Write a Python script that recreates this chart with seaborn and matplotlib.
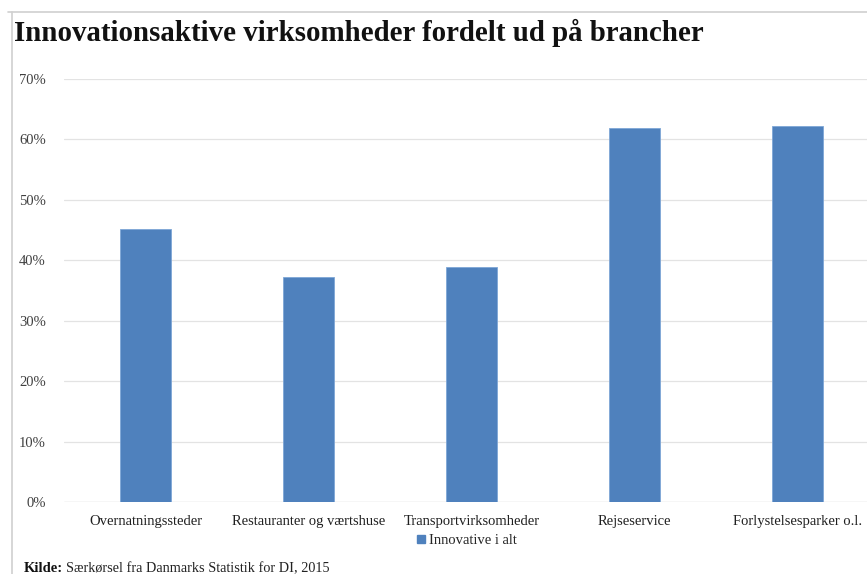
import matplotlib
matplotlib.use("Agg")
import matplotlib.pyplot as plt
from matplotlib.lines import Line2D
from matplotlib.ticker import PercentFormatter
import seaborn as sns
import pandas as pd

categories = ["Overnatningssteder", "Restauranter og værtshuse",
              "Transportvirksomheder", "Rejseservice", "Forlystelsesparker o.l."]
innovative = [0.452, 0.372, 0.389, 0.619, 0.622]
series_name = "Innovative i alt"
yticks = [0.0, 0.1, 0.2, 0.3, 0.4, 0.5, 0.6, 0.7]

df = pd.DataFrame({"Branche": categories, "Andel": innovative})

sns.set_theme(style="white")
plt.rcParams["font.family"] = ["Liberation Serif", "DejaVu Serif"]

BLUE = "#4F81BD"
W, H = 867, 574
fig = plt.figure(figsize=(W / 100, H / 100), dpi=100)
fig.patch.set_facecolor("white")

# plot area runs a little past the right edge of the canvas
left, right, bottom, top = 64, 879, 502, 79
ax = fig.add_axes([left / W, 1 - bottom / H, (right - left) / W, (bottom - top) / H])

sns.barplot(data=df, x="Branche", y="Andel", color=BLUE, width=0.313,
            saturation=1, ax=ax, edgecolor="#7ea6d6", linewidth=0.6)

ax.set_ylim(0, 0.7)
ax.set_xlim(-0.5, len(categories) - 0.5)
ax.set_yticks(yticks)
ax.yaxis.set_major_formatter(PercentFormatter(1.0, decimals=0))
ax.grid(axis="y", color="#e3e3e3", linewidth=0.9)
ax.set_axisbelow(True)
for s in ax.spines.values():
    s.set_visible(False)
ax.axhline(0, color="#d6d6d6", linewidth=0.9, zorder=0)
ax.set_xlabel("")
ax.set_ylabel("")
ax.tick_params(axis="y", length=0, pad=13, labelsize=10.5, labelcolor="#404040")
ax.tick_params(axis="x", length=0, pad=9, labelsize=10.5, labelcolor="#202020")

# title
fig.text(14 / W, 1 - 33 / H, "Innovationsaktive virksomheder fordelt ud på brancher",
         fontsize=20.8, fontweight="bold", color="#111111", va="center", ha="left")

# legend
handle = Line2D([], [], marker="s", linestyle="none", markersize=6,
                markerfacecolor=BLUE, markeredgecolor=BLUE)
fig.legend([handle], [series_name], loc="center", bbox_to_anchor=(466 / W, 1 - 540 / H),
           frameon=False, fontsize=10.5, handletextpad=0.1, borderpad=0, handlelength=0.8)

# source
fig.text(24 / W, 1 - 569 / H, "Kilde:", fontsize=10.5, fontweight="bold",
         color="#111111", va="center", ha="left")
fig.text(66 / W, 1 - 569 / H, "Særkørsel fra Danmarks Statistik for DI, 2015",
         fontsize=10.3, color="#222222", va="center", ha="left")

# outer frame lines
fig.add_artist(Line2D([8 / W, 1], [1 - 12 / H, 1 - 12 / H], color="#d0d0d0", linewidth=1.2))
fig.add_artist(Line2D([12 / W, 12 / W], [0, 1 - 12 / H], color="#d0d0d0", linewidth=1.2))

fig.savefig("out.png", dpi=100)
